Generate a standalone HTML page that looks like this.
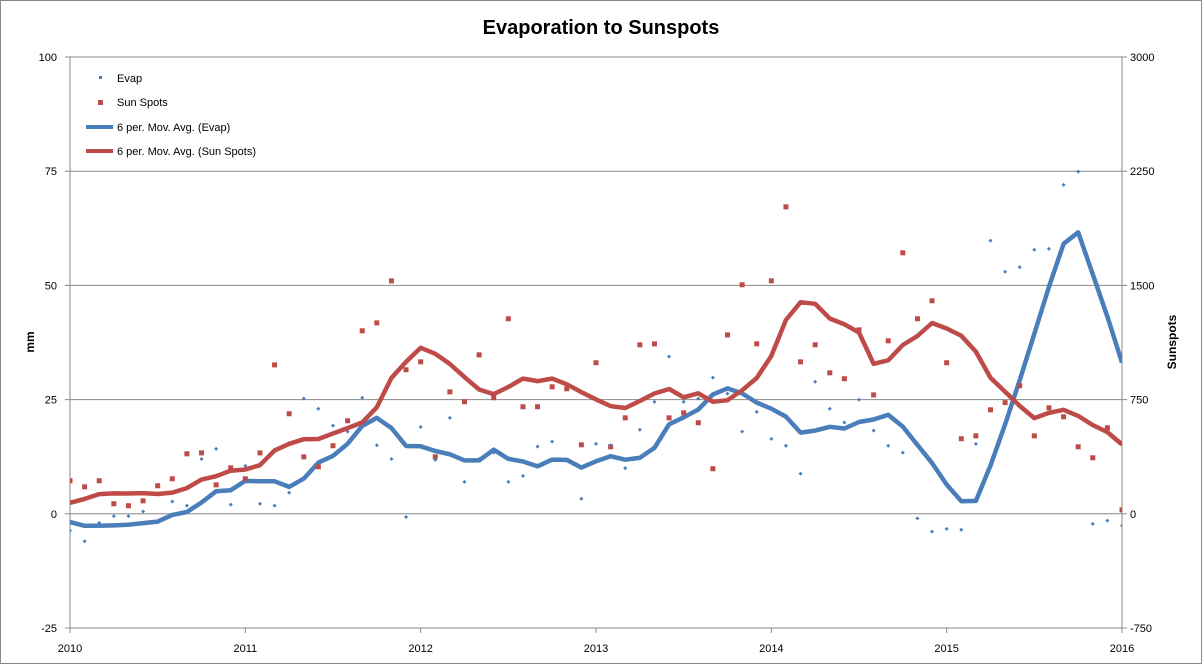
<!DOCTYPE html>
<html><head><meta charset="utf-8"><style>
body{margin:0;background:#fff;}
svg{display:block;font-family:"Liberation Sans",sans-serif;}
</style></head><body>
<svg id="chart" width="1202" height="664">
<rect x="0.5" y="0.5" width="1201" height="663" fill="#fff" stroke="#888"/>
<text x="601" y="34" text-anchor="middle" font-size="20" font-weight="bold">Evaporation to Sunspots</text>
<g id="grid"></g>
<g id="axes"></g>
<text transform="translate(34,342) rotate(-90)" text-anchor="middle" font-size="12" font-weight="bold">mm</text>
<text transform="translate(1176,342) rotate(-90)" text-anchor="middle" font-size="12" font-weight="bold">Sunspots</text>
<defs><clipPath id="plotclip"><rect x="70" y="57" width="1052" height="571"/></clipPath></defs>
<g id="plot" clip-path="url(#plotclip)"></g>
<g>
 <g><rect x="99" y="76" width="3" height="3" fill="#4A7EBB"/><text x="117" y="82" font-size="11">Evap</text></g>
 <g><rect x="98" y="100" width="5" height="5" fill="#BE4B48"/><text x="117" y="106" font-size="11">Sun Spots</text></g>
 <g><line x1="86" y1="127" x2="113" y2="127" stroke="#4A7EBB" stroke-width="4"/><text x="117" y="131" font-size="11">6 per. Mov. Avg. (Evap)</text></g>
 <g><line x1="86" y1="151" x2="113" y2="151" stroke="#BE4B48" stroke-width="4"/><text x="117" y="155" font-size="11">6 per. Mov. Avg. (Sun Spots)</text></g>
</g>
</svg>
<script>
// monthly data from 2009-08 (first 5 points before 2010 are clipped) to 2016-01
const startIndex = -5;
const evap = [-1,-2,-1,-1.5,-1.6,
 -3.7,-6,-2,-0.5,-0.5,0.5,-1.7,2.7,1.8,12,14.2,2,
 10.5,2.2,1.8,4.6,25.2,23,19.3,18,25.4,15,12,-0.7,
 19,11.8,21,7,12,13.4,7,8.3,14.7,15.8,11.6,3.3,
 15.3,15,10,18.4,24.5,34.4,24.5,25.2,29.8,26.3,18,22.3,
 16.4,14.9,8.8,28.9,23,20,25,18.2,14.9,13.4,-1,-3.9,
 -3.3,-3.5,15.3,59.8,53,54,57.8,58,72,74.9,-2.2,-1.5,
 -2.6];
const sunspots = [20,30,40,55,70,
 217,177,217,66,53,85,184,230,394,400,190,302,
 230,400,978,657,374,309,447,611,1202,1254,1530,946,
 998,374,801,736,1044,762,1281,703,703,834,821,453,
 992,440,630,1110,1116,630,663,598,296,1175,1504,1116,
 1530,2016,998,1110,926,887,1208,781,1136,1714,1281,1399,
 992,493,512,683,730,841,512,696,637,440,368,565,
 26];
const leftTicks = [100,75,50,25,0,-25];
const rightTicks = [3000,2250,1500,750,0,-750];
const yearLabels = ["2010","2011","2012","2013","2014","2015","2016"];
const period = 6;

const NS="http://www.w3.org/2000/svg";
const X0=70,X1=1122,Y0=57,Y1=628;
function xPos(i){return X0+(i)*(X1-X0)/72;}
function yL(v){return Y1-(v-(-25))*(Y1-Y0)/125;}
function yR(v){return Y1-(v-(-750))*(Y1-Y0)/3750;}
function mk(tag,attrs,parent){const e=document.createElementNS(NS,tag);for(const k in attrs)e.setAttribute(k,attrs[k]);parent.appendChild(e);return e;}
const grid=document.getElementById('grid'),axes=document.getElementById('axes'),plot=document.getElementById('plot');

leftTicks.forEach((t,k)=>{
 const y=yL(t);
 const g=mk('line',{x1:X0,x2:X1,y1:y,y2:y,stroke:'#888','stroke-width':1},grid);
 
 
 const tl=mk('text',{x:57,y:y+4,'text-anchor':'end','font-size':11},axes);
 tl.textContent=t;
 
 
 const tr=mk('text',{x:1130,y:y+4,'text-anchor':'start','font-size':11},axes);
 tr.textContent=rightTicks[k];
 
 
 mk('line',{x1:X0-5,x2:X0,y1:y,y2:y,stroke:'#888'},axes);
 mk('line',{x1:X1,x2:X1+5,y1:y,y2:y,stroke:'#888'},axes);
});
mk('line',{x1:X0,x2:X0,y1:Y0,y2:Y1,stroke:'#888'},axes);
mk('line',{x1:X1,x2:X1,y1:Y0,y2:Y1,stroke:'#888'},axes);
yearLabels.forEach((lab,k)=>{
 const x=xPos(k*12);
 mk('line',{x1:x,x2:x,y1:Y1,y2:Y1+5,stroke:'#888'},axes);
 const t=mk('text',{x:x,y:652,'text-anchor':'middle','font-size':11},axes);
 t.textContent=lab;
 
 
});

function movAvg(arr){const out=[];for(let i=period-1;i<arr.length;i++){let s=0;for(let j=0;j<period;j++)s+=arr[i-j];out.push([i,s/period]);}return out;}
function drawLine(arr,yf,color,name){
 const pts=movAvg(arr).map(([i,v])=>xPos(i+startIndex).toFixed(1)+','+yf(v).toFixed(1)).join(' ');
 const p=mk('polyline',{points:pts,fill:'none',stroke:color,'stroke-width':4.5,'stroke-linejoin':'round'},plot);
 
 
}
drawLine(evap,yL,'#4A7EBB','evap-moving-average');
drawLine(sunspots,yR,'#BE4B48','sunspots-moving-average');

sunspots.forEach((v,i)=>{
 const r=mk('rect',{x:xPos(i+startIndex)-2.5,y:yR(v)-2.5,width:5,height:5,fill:'#BE4B48'},plot);
 
 
});
evap.forEach((v,i)=>{
 const x=xPos(i+startIndex),y=yL(v);
 const r=mk('path',{d:`M${x-2},${y}L${x},${y-2}L${x+2},${y}L${x},${y+2}Z`,fill:'#4A7EBB'},plot);
 
 
});
</script>
</body></html>
